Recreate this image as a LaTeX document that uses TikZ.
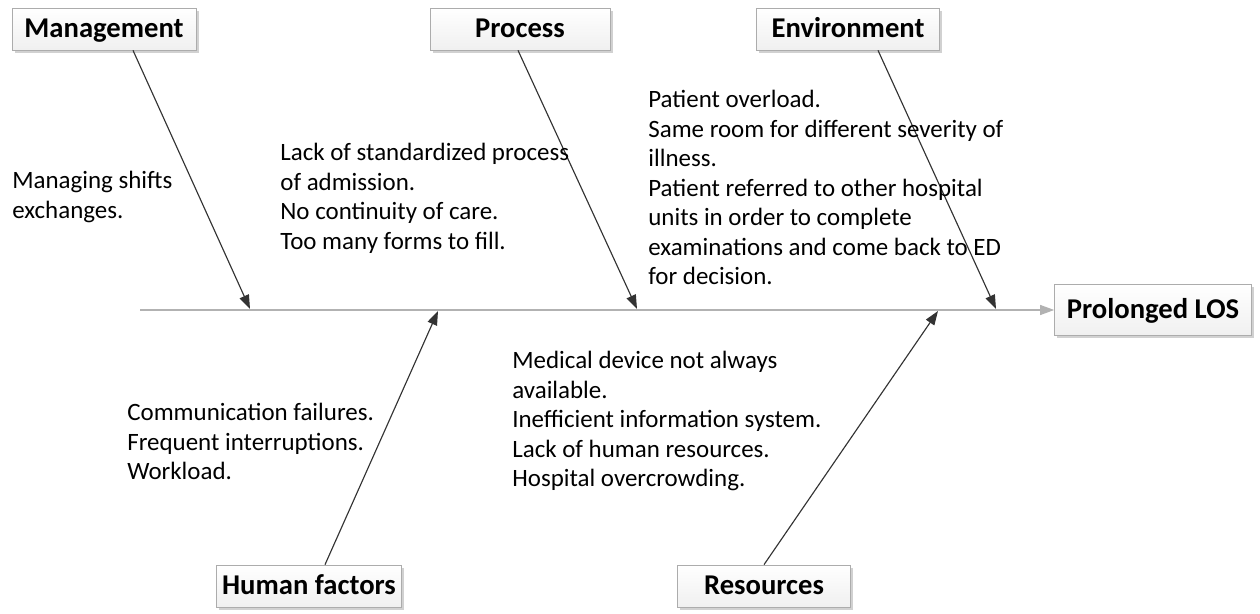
\documentclass[tikz,border=0pt]{standalone}
\usepackage{fontspec}
\setmainfont{Carlito}
\usetikzlibrary{arrows.meta,shadows}

\begin{document}
\begin{tikzpicture}[x=0.02cm, y=-0.02cm,
    cause/.style = {shape=rectangle, draw=gray!65, top color=white, bottom color=gray!12,
                    drop shadow={shadow xshift=1.5pt, shadow yshift=-1.5pt, fill=gray!60, opacity=.6},
                    minimum height=0.84cm, text height=12.5pt, text depth=2.5pt,
                    font=\fontsize{16.3}{19}\selectfont\bfseries},
    note/.style = {anchor=north west, inner sep=0pt, align=left, font=\fontsize{14.2}{16.8}\selectfont},
    bone/.style = {draw=gray!40!black, line width=0.65pt, -{Triangle[length=0.28cm, width=0.2cm]}}]
    \useasboundingbox (0,0) rectangle (1260,614);

    % causes and effect
    \node[cause, minimum width=3.68cm] (mgmt) at (104,29) {Management};
    \node[cause, minimum width=3.6cm]  (proc) at (520,29) {Process};
    \node[cause, minimum width=3.66cm] (env)  at (848,29) {Environment};
    \node[cause, minimum width=3.48cm] (human) at (309,586) {Human factors};
    \node[cause, minimum width=3.46cm] (res)  at (764,586) {Resources};
    \node[cause, minimum width=3.94cm, minimum height=1.02cm] (los) at (1153,310) {Prolonged LOS};

    % spine
    \coordinate (tail) at (140,310);
    \draw[bone, draw=gray!60] (tail) -- (los.west);

    % bones
    \coordinate (m) at (250,309);
    \coordinate (p) at (637,309);
    \coordinate (e) at (996,309);
    \coordinate (h) at (438,311);
    \coordinate (r) at (938,311);
    \draw[bone] ([xshift=0.58cm]mgmt.south) -- (m);
    \draw[bone] ([xshift=-0.04cm]proc.south) -- (p);
    \draw[bone] ([xshift=0.6cm]env.south) -- (e);
    \draw[bone] ([xshift=0.32cm]human.north) -- (h);
    \draw[bone] (res.north) -- (r);

    % details
    \node[note] (mgmtnote) at (12,171) {Managing shifts\\exchanges.};
    \node[note] (procnote) at (280,143) {Lack of standardized process\\of admission.\\No continuity of care.\\Too many forms to fill.};
    \node[note] (envnote) at (648,90) {Patient overload.\\Same room for different severity of\\illness.\\Patient referred to other hospital\\units in order to complete\\examinations and come back to ED\\for decision.};
    \node[note] (humannote) at (127,403) {Communication failures.\\Frequent interruptions.\\Workload.};
    \node[note] (resnote) at (512,351) {Medical device not always\\available.\\Inefficient information system.\\Lack of human resources.\\Hospital overcrowding.};
\end{tikzpicture}
\end{document}
